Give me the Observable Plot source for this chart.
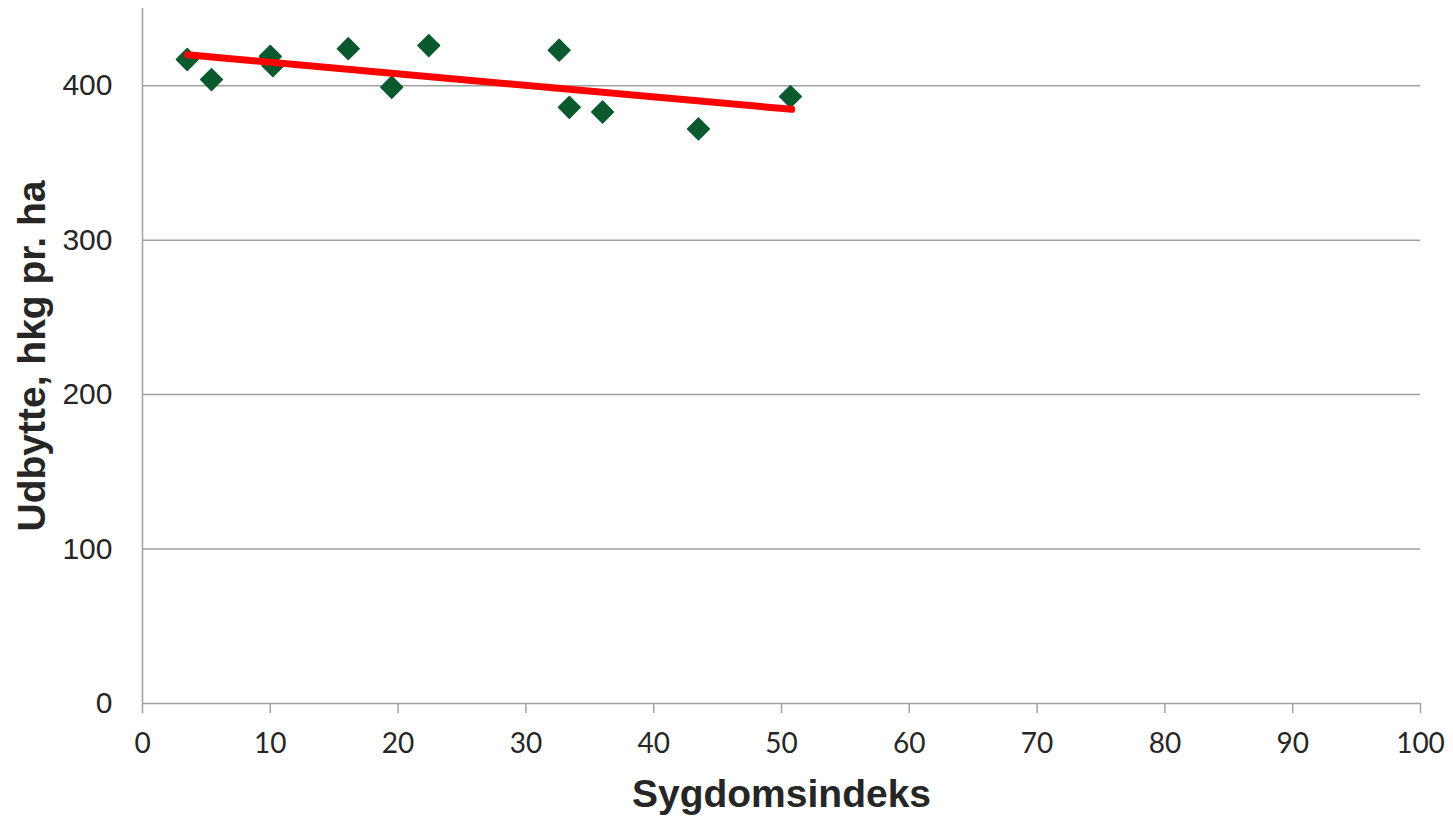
<!DOCTYPE html>
<html>
<head>
<meta charset="utf-8">
<script src="https://cdn.jsdelivr.net/npm/d3@7"></script>
<script src="https://cdn.jsdelivr.net/npm/@observablehq/plot@0.6"></script>
<style>
  html, body { margin: 0; padding: 0; background: #fff; }
  #chart svg { display: block; }
</style>
</head>
<body>
<div id="chart"></div>
<script>
// Data
const sygdomsindeks = [3.5, 5.4, 10.0, 10.2, 16.1, 19.5, 22.4, 32.6, 33.4, 36.0, 43.5, 50.7];
const udbytte       = [417, 404, 419, 413, 424, 399, 426, 423, 386, 383, 372, 393];
const trendX = [3.5, 50.8];
const trendY = [420, 384.7];
const xTicks = [0, 10, 20, 30, 40, 50, 60, 70, 80, 90, 100];
const yTicks = [0, 100, 200, 300, 400];
const gridValues = [100, 200, 300, 400];
const xTitle = "Sygdomsindeks";
const yTitle = "Udbytte, hkg pr. ha";

const points = sygdomsindeks.map((x, i) => ({x, y: udbytte[i]}));
const trend = trendX.map((x, i) => ({x, y: trendY[i]}));

const textColor = "#262626";
const axisGray = "#a0a0a0";

const chart = Plot.plot({
  width: 1453,
  height: 817,
  marginLeft: 142,
  marginRight: 33,
  marginTop: 8,
  marginBottom: 114,
  style: {color: textColor, background: "#fff"},
  x: {domain: [0, 100]},
  y: {domain: [0, 450]},
  marks: [
    Plot.ruleY(gridValues, {stroke: axisGray, strokeWidth: 1.5}),
    Plot.ruleX([0], {stroke: axisGray, strokeWidth: 1.5}),
    Plot.ruleY([0], {stroke: axisGray, strokeWidth: 1.5}),
    Plot.axisY({ticks: yTicks, tickSize: 0, tickPadding: 30, fontSize: 30,
      fontFamily: "Liberation Sans, Arial, sans-serif", label: null, fill: textColor}),
    Plot.axisX({ticks: xTicks, tickSize: 10, tickPadding: 20, fontSize: 28,
      fontFamily: "Lato, sans-serif", label: null, stroke: axisGray, strokeWidth: 1.5, fill: textColor}),
    Plot.dot(points, {x: "x", y: "y", symbol: "diamond2", r: 9.8,
      fill: "#0b5a2e", stroke: "#0b5a2e", strokeWidth: 1.5, strokeLinejoin: "round"}),
    Plot.line(trend, {x: "x", y: "y", stroke: "#ff0000", strokeWidth: 7, strokeLinecap: "round"}),
    Plot.text([xTitle], {frameAnchor: "bottom", lineAnchor: "middle", textAnchor: "middle", dy: 91,
      fontSize: 39, fontWeight: "bold", fontFamily: "Liberation Sans, Arial, sans-serif", fill: textColor}),
    Plot.text([yTitle], {frameAnchor: "left", lineAnchor: "middle", textAnchor: "middle", dx: -110, rotate: -90,
      fontSize: 39, fontWeight: "bold", fontFamily: "Liberation Sans, Arial, sans-serif", fill: textColor})
  ]
});
document.getElementById("chart").appendChild(chart);
</script>
</body>
</html>
